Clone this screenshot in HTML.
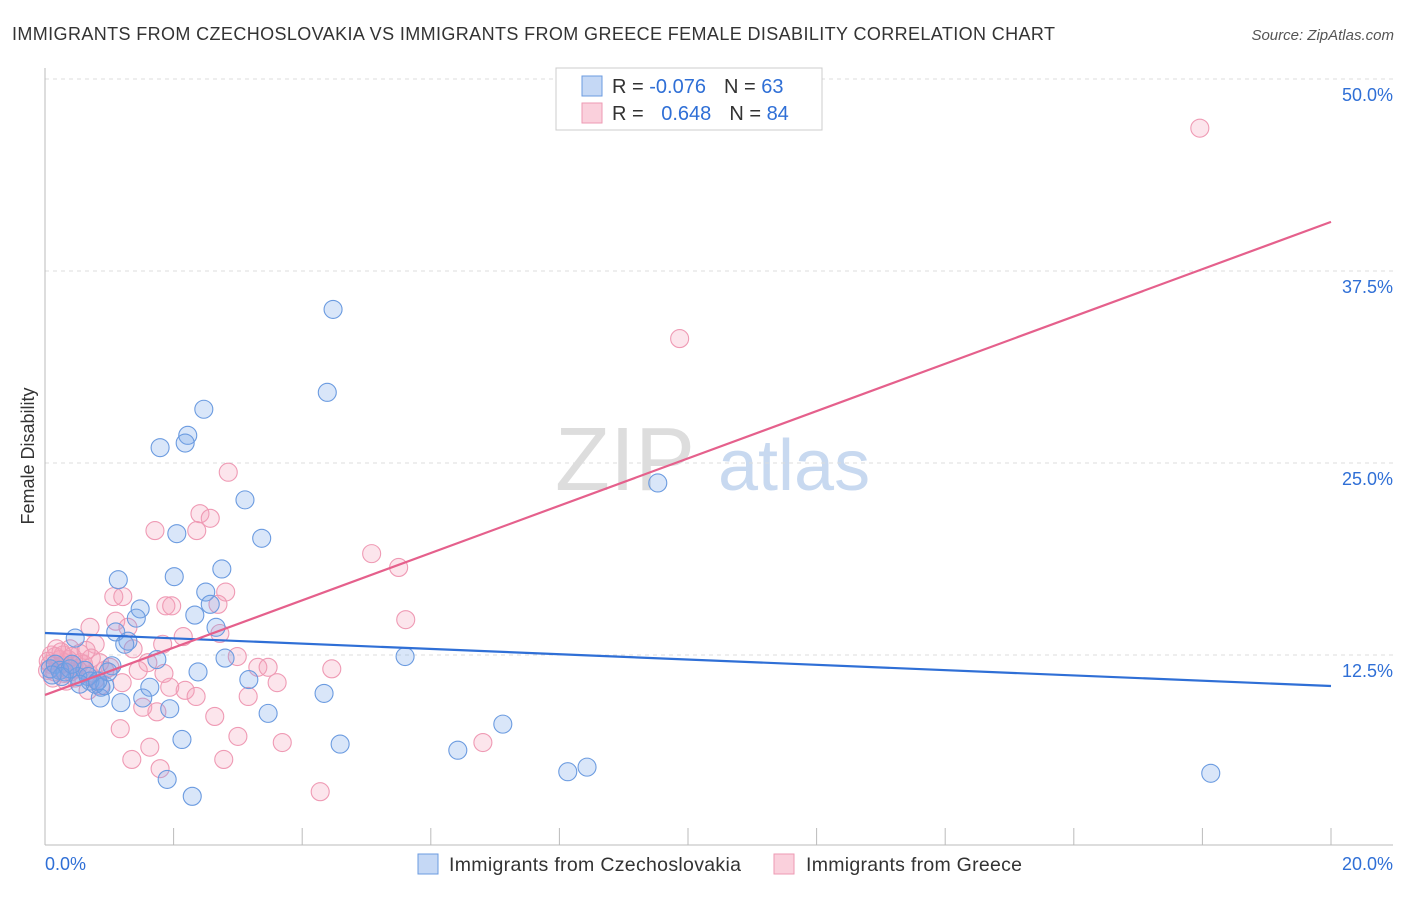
<!DOCTYPE html>
<html><head><meta charset="utf-8"><style>
body{margin:0;background:#fff;font-family:"Liberation Sans",sans-serif}
svg text{font-family:"Liberation Sans",sans-serif}
</style></head><body>
<svg id="chart" width="1406" height="892">
<text x="12" y="40" font-size="18" fill="#333" textLength="1043">IMMIGRANTS FROM CZECHOSLOVAKIA VS IMMIGRANTS FROM GREECE FEMALE DISABILITY CORRELATION CHART</text>
<text x="1394" y="40" font-size="15" fill="#555" font-style="italic" text-anchor="end">Source: ZipAtlas.com</text>
<text x="34" y="456" font-size="18" fill="#333" text-anchor="middle" transform="rotate(-90 34 456)">Female Disability</text>
<g><text x="555" y="490" font-size="90" fill="#ddd" font-family="Liberation Serif">ZIP</text><text x="718" y="490" font-size="72" fill="#c8d9f0">atlas</text></g>
<g id="grid"></g><g id="axes"></g><g id="pts"></g><g id="lines"></g>
<g>
<rect x="556" y="68" width="266" height="62" fill="#fff" stroke="#ccc"/>
<rect x="582" y="76" width="20" height="20" fill="#c5d8f5" stroke="#6b9be0"/>
<rect x="582" y="103" width="20" height="20" fill="#fad0dc" stroke="#ee9ab3"/>
<text x="612" y="93" font-size="20" fill="#333">R = <tspan fill="#2f6fd6">-0.076</tspan><tspan dx="18">N = </tspan><tspan fill="#2f6fd6">63</tspan></text>
<text x="612" y="120" font-size="20" fill="#333">R = <tspan dx="12" fill="#2f6fd6">0.648</tspan><tspan dx="18">N = </tspan><tspan fill="#2f6fd6">84</tspan></text>
</g>
<g>
<rect x="418" y="854" width="20" height="20" fill="#c5d8f5" stroke="#6b9be0"/>
<text x="449" y="871" font-size="19.5" fill="#333" textLength="292">Immigrants from Czechoslovakia</text>
<rect x="774" y="854" width="20" height="20" fill="#fad0dc" stroke="#ee9ab3"/>
<text x="806" y="871" font-size="19.5" fill="#333" textLength="216">Immigrants from Greece</text>
</g>
</svg>
<script>
const yTicks=[12.5,25,37.5,50];
const yTickLabels=["12.5%","25.0%","37.5%","50.0%"];
const xTicks=[0,2,4,6,8,10,12,14,16,18,20];
const xEndLabels=["0.0%","20.0%"];
const blueX=[4.48,4.39,2.47,2.22,2.18,1.79,9.53,3.11,2.05,3.37,2.75,1.14,2.01,2.50,2.57,1.48,2.33,1.42,1.10,2.66,0.47,1.29,1.24,1.74,1.04,2.80,5.60,2.38,3.17,1.63,0.87,4.34,0.86,1.18,1.52,3.47,1.94,7.12,2.13,4.59,6.42,8.13,8.43,1.90,2.29,18.13,0.08,0.16,0.23,0.31,0.39,0.51,0.62,0.70,0.78,0.93,0.98,0.67,0.26,0.42,0.54,0.11,0.82];
const blueY=[35.0,29.6,28.5,26.8,26.3,26.0,23.7,22.6,20.4,20.1,18.1,17.4,17.6,16.6,15.8,15.5,15.1,14.9,14.0,14.3,13.6,13.4,13.2,12.2,11.8,12.3,12.4,11.4,10.9,10.4,10.4,10.0,9.7,9.4,9.7,8.7,9.0,8.0,7.0,6.7,6.3,4.9,5.2,4.4,3.3,4.8,11.6,11.9,11.5,11.4,11.6,11.1,11.5,10.8,10.6,10.5,11.4,11.1,11.1,11.9,10.6,11.2,10.8];
const pinkX=[17.96,9.87,2.85,2.41,2.57,1.71,2.36,5.08,5.50,2.81,1.07,1.21,1.88,1.97,2.69,5.61,1.10,1.29,0.70,2.15,2.72,1.83,0.78,1.37,2.99,1.60,3.31,3.47,4.46,1.45,1.01,1.85,3.61,1.20,2.18,1.94,2.35,3.16,1.52,1.74,2.64,1.17,3.00,1.63,3.69,1.35,1.79,2.78,6.81,4.28,0.39,0.54,0.23,0.62,0.78,0.93,0.16,0.31,0.47,0.67,0.86,0.08,0.2,0.36,0.1,0.45,0.3,0.55,0.15,0.05,0.25,0.6,0.72,0.4,0.12,0.33,0.5,0.28,0.7,0.85,0.18,0.04,0.64,0.42];
const pinkY=[46.8,33.1,24.4,21.7,21.4,20.6,20.6,19.1,18.2,16.6,16.3,16.3,15.7,15.7,15.8,14.8,14.7,14.3,14.3,13.7,13.9,13.2,13.2,12.9,12.4,12.0,11.7,11.7,11.6,11.5,11.7,11.3,10.7,10.7,10.2,10.4,9.8,9.8,9.1,8.8,8.5,7.7,7.2,6.5,6.8,5.7,5.1,5.7,6.8,3.6,12.9,12.6,12.2,11.5,10.9,11.5,12.4,12.0,11.0,10.2,10.5,11.9,11.7,12.2,12.5,11.8,11.3,12.0,11.4,12.1,12.7,11.9,12.3,11.4,11.0,10.8,11.6,12.5,11.2,12.0,12.9,11.5,12.8,12.4];
const blueTrend=[13.93,10.48];
const pinkTrend=[9.9,40.7];
const NS='http://www.w3.org/2000/svg';
const X=v=>45+v/20*1286, Y=v=>847-v/50*768;
function mk(t,a,p){const e=document.createElementNS(NS,t);for(const k in a)e.setAttribute(k,a[k]);p.appendChild(e);return e;}
const grid=document.getElementById('grid'),axes=document.getElementById('axes'),pts=document.getElementById('pts'),lines=document.getElementById('lines');
yTicks.forEach((t,i)=>{
 const l=mk('line',{x1:45,x2:1393,y1:Y(t),y2:Y(t),stroke:'#ddd','stroke-dasharray':'4,4'},grid);
 
 
 const tx=mk('text',{x:1393,y:Y(t)+22,'text-anchor':'end','font-size':18,fill:'#2f6fd6'},axes);
 tx.textContent=yTickLabels[i];
 
 
});
mk('line',{x1:45,x2:45,y1:68,y2:845,stroke:'#bbb'},axes);
mk('line',{x1:45,x2:1393,y1:845,y2:845,stroke:'#bbb'},axes);
xTicks.forEach(t=>{const l=mk('line',{x1:X(t),x2:X(t),y1:828,y2:845,stroke:'#bbb'},axes);
 
 });
const a=mk('text',{x:45,y:870,'font-size':18,fill:'#2f6fd6'},axes);a.textContent=xEndLabels[0];


const b=mk('text',{x:1393,y:870,'font-size':18,fill:'#2f6fd6','text-anchor':'end'},axes);b.textContent=xEndLabels[1];


pinkX.forEach((v,i)=>{const c=mk('circle',{cx:X(v),cy:Y(pinkY[i]),r:9,fill:'rgba(244,160,186,0.28)',stroke:'#ef9ab4','stroke-width':1.1},pts);
 
 });
blueX.forEach((v,i)=>{const c=mk('circle',{cx:X(v),cy:Y(blueY[i]),r:9,fill:'rgba(120,165,235,0.28)',stroke:'#6b9be0','stroke-width':1.1},pts);
 
 });
const bl=mk('line',{x1:X(0),x2:X(20),y1:Y(blueTrend[0]),y2:Y(blueTrend[1]),stroke:'#2f6fd6','stroke-width':2.2},lines);


const pl=mk('line',{x1:X(0),x2:X(20),y1:Y(pinkTrend[0]),y2:Y(pinkTrend[1]),stroke:'#e5608c','stroke-width':2.2},lines);


</script>
</body></html>
